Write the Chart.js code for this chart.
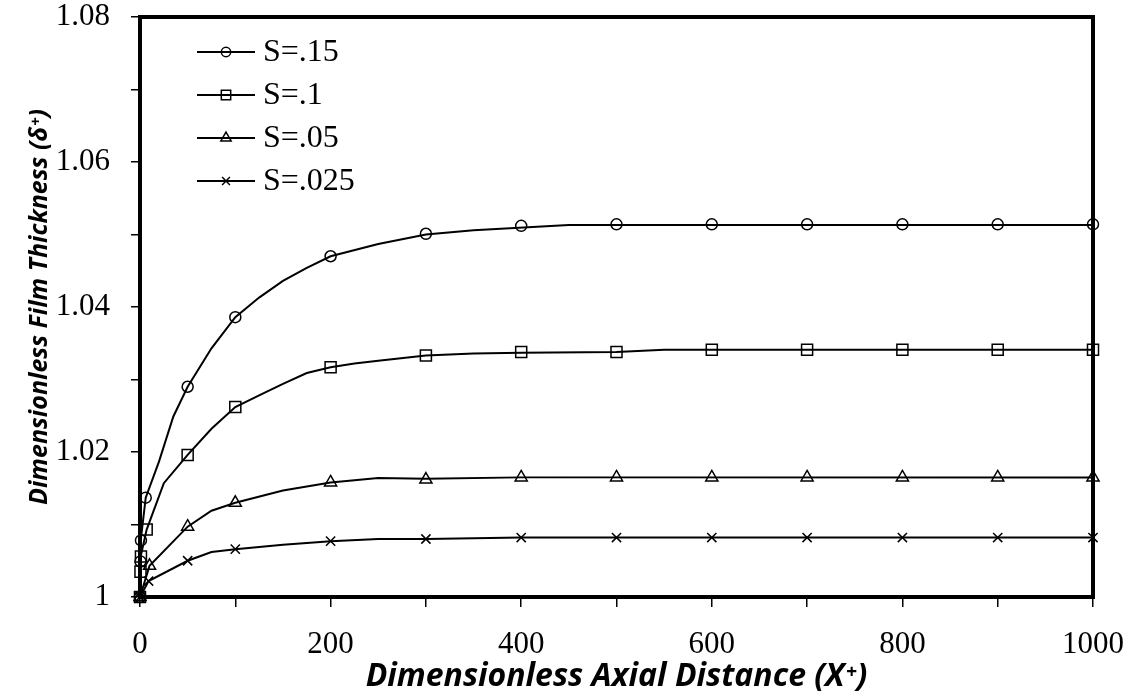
<!DOCTYPE html>
<html>
<head>
<meta charset="utf-8">
<script src="https://cdn.jsdelivr.net/npm/chart.js@4.4.1/dist/chart.umd.min.js"></script>
<style>
  html, body { margin: 0; padding: 0; background: #fff; }
</style>
</head>
<body>
<canvas id="filmChart" width="1129" height="700"></canvas>
<script>
const seriesLabels = ["S=.15", "S=.1", "S=.05", "S=.025"];
const markerStyles = ["circle", "rect", "triangle", "crossRot"];
const markerRadii = [5.5, 7.8, 7, 6.5];

// marked points (X+, delta+)
const s15MarkX = [0, 0.5, 1, 6, 50, 100, 200, 300, 400, 500, 600, 700, 800, 900, 1000];
const s15MarkY = [1.0, 1.0049, 1.0078, 1.0137, 1.029, 1.0386, 1.047, 1.0501, 1.0512, 1.0514, 1.0514, 1.0514, 1.0514, 1.0514, 1.0514];
const s10MarkX = [0, 0.5, 1, 7, 50, 100, 200, 300, 400, 500, 600, 700, 800, 900, 1000];
const s10MarkY = [1.0, 1.0035, 1.0056, 1.0093, 1.0196, 1.0262, 1.0317, 1.0333, 1.0338, 1.0338, 1.0341, 1.0341, 1.0341, 1.0341, 1.0341];
const s05MarkX = [0, 10, 50, 100, 200, 300, 400, 500, 600, 700, 800, 900, 1000];
const s05MarkY = [1.0, 1.0043, 1.0097, 1.013, 1.0158, 1.0162, 1.0165, 1.0165, 1.0165, 1.0165, 1.0165, 1.0165, 1.0165];
const s025MarkX = [0, 9, 50, 100, 200, 300, 400, 500, 600, 700, 800, 900, 1000];
const s025MarkY = [1.0, 1.0022, 1.005, 1.0066, 1.0077, 1.008, 1.0082, 1.0082, 1.0082, 1.0082, 1.0082, 1.0082, 1.0082];

// solution curves
const s15LineX = [0, 0.5, 1, 6, 20, 35, 50, 75, 100, 125, 150, 175, 200, 250, 300, 350, 450, 1000];
const s15LineY = [1.0, 1.0049, 1.0078, 1.0137, 1.0187, 1.0249, 1.029, 1.0343, 1.0386, 1.0413, 1.0436, 1.0454, 1.047, 1.0487, 1.05, 1.0506, 1.0513, 1.0513];
const s10LineX = [0, 0.5, 1, 7, 25, 50, 75, 100, 125, 150, 175, 200, 225, 250, 300, 350, 400, 500, 550, 1000];
const s10LineY = [1.0, 1.0035, 1.0056, 1.0093, 1.0157, 1.0196, 1.0232, 1.0262, 1.0278, 1.0294, 1.0309, 1.0317, 1.0322, 1.0326, 1.0333, 1.0336, 1.0337, 1.0338, 1.0341, 1.0341];
const s05LineX = [0, 10, 50, 75, 100, 150, 200, 250, 300, 400, 1000];
const s05LineY = [1.0, 1.0043, 1.0097, 1.0119, 1.013, 1.0147, 1.0158, 1.0164, 1.0163, 1.0165, 1.0165];
const s025LineX = [0, 9, 50, 75, 100, 150, 200, 250, 300, 400, 1000];
const s025LineY = [1.0, 1.0022, 1.005, 1.0062, 1.0066, 1.0072, 1.0077, 1.008, 1.008, 1.0082, 1.0082];

const markX = [s15MarkX, s10MarkX, s05MarkX, s025MarkX];
const markY = [s15MarkY, s10MarkY, s05MarkY, s025MarkY];
const lineX = [s15LineX, s10LineX, s05LineX, s025LineX];
const lineY = [s15LineY, s10LineY, s05LineY, s025LineY];

const pairs = (xs, ys) => xs.map((x, i) => ({ x, y: ys[i] }));

const datasets = [];
seriesLabels.forEach((label, i) => {
  datasets.push({
    label: label + " curve",
    data: pairs(lineX[i], lineY[i]),
    showLine: true,
    pointRadius: 0,
    borderColor: "#000",
    borderWidth: 2,
    tension: 0,
  });
  datasets.push({
    label,
    data: pairs(markX[i], markY[i]),
    showLine: false,
    pointStyle: markerStyles[i],
    pointRadius: markerRadii[i],
    pointBorderWidth: 1.5,
    borderColor: "#000",
    backgroundColor: "rgba(0,0,0,0)",
    clip: false,
  });
});

// thick frame round the plot area
const plotFrame = {
  id: "plotFrame",
  beforeDatasetsDraw(chart) {
    const { ctx, chartArea: a } = chart;
    ctx.save();
    ctx.strokeStyle = "#000";
    ctx.lineWidth = 4;
    ctx.strokeRect(a.left, a.top, a.right - a.left, a.bottom - a.top);
    ctx.restore();
  },
};

// legend with line + marker samples, top left inside the frame
const insideLegend = {
  id: "insideLegend",
  afterDraw(chart) {
    const { ctx, chartArea: a } = chart;
    ctx.save();
    ctx.strokeStyle = "#000";
    ctx.font = '32px "Liberation Serif"';
    ctx.textBaseline = "middle";
    seriesLabels.forEach((label, i) => {
      const y = a.top + 35 + i * 43;
      const x0 = a.left + 57;
      ctx.lineWidth = 2;
      ctx.beginPath();
      ctx.moveTo(x0, y);
      ctx.lineTo(x0 + 58, y);
      ctx.stroke();
      ctx.lineWidth = 1.5;
      ctx.fillStyle = "rgba(0,0,0,0)";
      Chart.helpers.drawPoint(ctx, { pointStyle: markerStyles[i], radius: markerRadii[i] * 0.85, borderWidth: 1.5, rotation: 0 }, x0 + 29, y);
      ctx.fillStyle = "#000";
      ctx.fillText(label, x0 + 66, y + 1);
    });
    ctx.restore();
  },
};

Chart.defaults.color = "#000";

new Chart(document.getElementById("filmChart"), {
  type: "scatter",
  data: { datasets },
  plugins: [plotFrame, insideLegend],
  options: {
    responsive: false,
    animation: false,
    devicePixelRatio: 1,
    layout: { padding: { top: 17, right: 36, left: 0, bottom: 0 } },
    plugins: { legend: { display: false }, tooltip: { enabled: false } },
    scales: {
      x: {
        type: "linear",
        min: 0,
        max: 1000,
        afterFit: (s) => {
          s.height = 103;
          s.paddingLeft = 0;
          s.paddingRight = 0;
        },
        border: { display: false },
        grid: { drawOnChartArea: false, drawTicks: true, tickLength: 10, color: "#000", lineWidth: 1.5 },
        ticks: {
          stepSize: 100,
          autoSkip: false,
          maxRotation: 0,
          padding: 19,
          font: { family: '"Liberation Serif"', size: 31 },
          callback: (v) => (Math.round(v) % 200 === 0 ? String(Math.round(v)) : ""),
        },
        title: {
          display: true,
          text: "Dimensionless Axial Distance (X\u207A)",
          font: { family: '"Open Sans"', size: 32, weight: "bold", style: "italic" },
          padding: { top: 0, bottom: 4 },
        },
      },
      y: {
        type: "linear",
        min: 1,
        max: 1.08,
        afterFit: (s) => {
          s.width = 140;
          s.paddingTop = 0;
          s.paddingBottom = 0;
        },
        border: { display: false },
        grid: { drawOnChartArea: false, drawTicks: true, tickLength: 9, color: "#000", lineWidth: 1.5 },
        ticks: {
          stepSize: 0.01,
          autoSkip: false,
          padding: 21,
          font: { family: '"Liberation Serif"', size: 31 },
          callback: (v) => {
            const k = Math.round(v * 100);
            return k % 2 === 0 ? String(k / 100) : "";
          },
        },
        title: {
          display: true,
          text: "Dimensionless Film Thickness (\u03B4\u207A)",
          font: { family: '"Open Sans"', size: 25, weight: "bold", style: "italic" },
          padding: { top: 25, bottom: 0 },
        },
      },
    },
  },
});
</script>
</body>
</html>
